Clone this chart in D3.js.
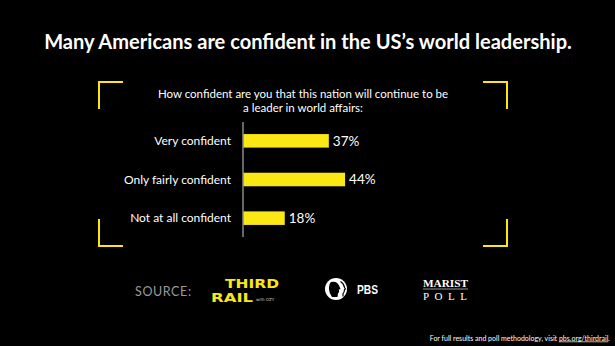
<!DOCTYPE html>
<html><head><meta charset="utf-8">
<script src="https://cdn.jsdelivr.net/npm/d3@7"></script>
<style>
html,body{margin:0;padding:0;background:#000;}
svg{display:block;}
</style></head>
<body>
<svg id="c" width="615" height="346"></svg>
<script>
const title = "Many Americans are confident in the US\u2019s world leadership.";
const question = ["How confident are you that this nation will continue to be", "a leader in world affairs:"];
const categories = ["Very confident", "Only fairly confident", "Not at all confident"];
const values = [37, 44, 18];
const valueLabels = ["37%", "44%", "18%"];
const footer = "For full results and poll methodology, visit ";
const footerLink = "pbs.org/thirdrail";

const W = 615, H = 346;
const YEL = "#fbe714";
const svg = d3.select("#c");
svg.append("rect").attr("width", W).attr("height", H).attr("fill", "#000");

// Title
const t = svg.append("text").attr("x", 308).attr("y", 48.5).attr("text-anchor", "middle")
  .attr("fill", "#fff").attr("font-family", "Lato").attr("font-weight", 700).attr("font-size", 20)
  .text(title);
{ const w = t.node().getComputedTextLength(); t.attr("font-size", 20 * 528 / w); }

// Brackets
const bp = d3.path();
const L = 99, R = 507, T = 82, B = 246, hl = 24, vl = 27;
[[L, T, 1, 1], [R, T, -1, 1], [L, B, 1, -1], [R, B, -1, -1]].forEach(([x, y, sx, sy]) => {
  bp.moveTo(x + sx * hl, y); bp.lineTo(x, y); bp.lineTo(x, y + sy * vl);
});
svg.append("path").attr("d", bp.toString()).attr("fill", "none").attr("stroke", YEL).attr("stroke-width", 2);

// Question
question.forEach((q, i) => {
  svg.append("text").attr("x", 303).attr("y", 98 + i * 13.5).attr("text-anchor", "middle")
    .attr("fill", "#fff").attr("font-family", "Lato").attr("font-size", 11.5).text(q);
});

// Scales
const x = d3.scaleLinear().domain([0, 100]).range([243, 475]);
const y = d3.scaleBand().domain(categories).range([121.5, 237.5]).paddingInner(0.65).paddingOuter(0.325);

const g = svg.append("g");
g.selectAll("rect.bar").data(values).join("rect").attr("class", "bar")
  .attr("x", x(0)).attr("y", (d, i) => y(categories[i]))
  .attr("width", d => x(d) - x(0)).attr("height", y.bandwidth()).attr("fill", YEL);

// axis line
const ax = d3.axisLeft(y).tickSize(0).tickPadding(12);
const axG = svg.append("g").attr("transform", `translate(${x(0)},0)`).call(ax);
axG.select(".domain").attr("stroke", "#8a8a8a").attr("stroke-width", 1.5)
  .attr("d", `M0,122V237`);
axG.selectAll(".tick text").attr("fill", "#fff").attr("font-family", "Lato").attr("font-size", 12)
  .attr("dy", "0.35em");

g.selectAll("text.val").data(values).join("text").attr("class", "val")
  .attr("x", d => x(d) + 4).attr("y", (d, i) => y(categories[i]) + y.bandwidth() / 2)
  .attr("dy", "0.36em").attr("fill", "#fff").attr("font-family", "Lato").attr("font-size", 13.5)
  .text((d, i) => valueLabels[i]);

// Source
svg.append("text").attr("x", 135).attr("y", 295.5).attr("fill", "#9a9a9a")
  .attr("font-family", "Lato").attr("font-size", 12.5).attr("letter-spacing", 0.6).text("SOURCE:");

// Third Rail logo
const tr = svg.append("g");
tr.append("text").attr("x", 225).attr("y", 288).attr("fill", YEL).attr("font-family", "DejaVu Sans")
  .attr("font-weight", 700).attr("font-size", 11.5).attr("textLength", 54).attr("lengthAdjust", "spacingAndGlyphs").text("THIRD");
tr.append("text").attr("x", 211).attr("y", 301.5).attr("fill", YEL).attr("font-family", "DejaVu Sans")
  .attr("font-weight", 700).attr("font-size", 12).attr("textLength", 42).attr("lengthAdjust", "spacingAndGlyphs").text("RAIL");
tr.append("text").attr("x", 256).attr("y", 300.5).attr("fill", "#ccc").attr("font-family", "DejaVu Sans")
  .attr("font-size", 4).text("with OZY");

// PBS logo
const pbs = svg.append("g");
pbs.append("circle").attr("cx", 336).attr("cy", 289).attr("r", 11).attr("fill", "#fff");
pbs.append("path").attr("fill", "#000").attr("d",
  "M331,282 q6,-1.5 8,3.5 l1.5,3.5 l-1.5,0.5 q0.5,3 -1,4 l-0.5,3.5 l-5.5,0 q-3,-4 -3,-8 q0,-5.5 2,-7z");
pbs.append("path").attr("fill", "none").attr("stroke", "#000").attr("stroke-width", 1.2).attr("d",
  "M340.5,281.5 q3.5,2 4,6 l1,1.5 l-1,0.5 q0,3 -1.5,4 l0,3");
pbs.append("text").attr("x", 357).attr("y", 293.5).attr("fill", "#fff").attr("font-family", "Liberation Sans")
  .attr("font-weight", 700).attr("font-size", 13).attr("textLength", 21).attr("lengthAdjust", "spacingAndGlyphs").text("PBS");

// Marist Poll logo
const mp = svg.append("g");
mp.append("text").attr("x", 423).attr("y", 286.5).attr("fill", "#fff").attr("font-family", "Liberation Serif")
  .attr("font-weight", 700).attr("font-size", 10).attr("textLength", 45).attr("lengthAdjust", "spacingAndGlyphs").text("MARIST");
mp.append("line").attr("x1", 423).attr("x2", 468).attr("y1", 289).attr("y2", 289).attr("stroke", "#bbb").attr("stroke-width", 0.8);
mp.append("text").attr("x", 423).attr("y", 299.5).attr("fill", "#fff").attr("font-family", "Liberation Serif")
  .attr("font-size", 11).attr("textLength", 44).attr("lengthAdjust", "spacing").text("POLL");

// Footer
const ft = svg.append("text").attr("x", 610).attr("y", 340.5).attr("text-anchor", "end")
  .attr("fill", "#fff").attr("font-family", "Lato").attr("font-size", 7);
ft.append("tspan").text(footer);
ft.append("tspan").attr("text-decoration", "underline").text(footerLink);
ft.append("tspan").text(".");
</script>
</body></html>
